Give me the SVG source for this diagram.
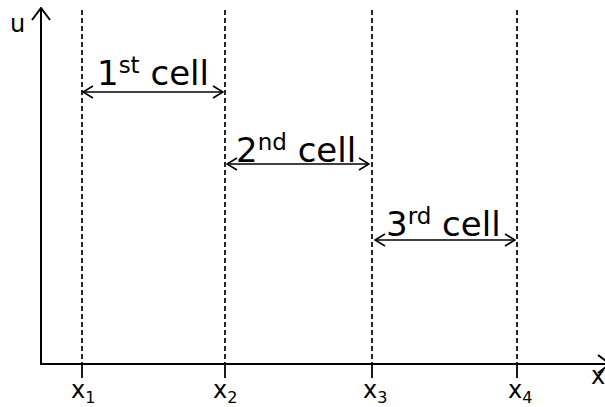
<svg xmlns="http://www.w3.org/2000/svg" width="605" height="407" viewBox="0 0 605 407">
  <defs>
    <marker id="open" viewBox="0 0 12 14" refX="11" refY="7" markerWidth="12" markerHeight="14" markerUnits="userSpaceOnUse" orient="auto-start-reverse">
      <path d="M1,1 L11,7 L1,13" fill="none" stroke="#000" stroke-width="1.6"/>
    </marker>
    <marker id="axisHead" viewBox="0 0 14 20" refX="13" refY="10" markerWidth="14" markerHeight="20" markerUnits="userSpaceOnUse" orient="auto">
      <path d="M1,1 L13,10 L1,19" fill="none" stroke="#000" stroke-width="2"/>
    </marker>
  </defs>
  <style>
    .axis { stroke: #000; stroke-width: 2; fill: none; }
    .grid { stroke: #000; stroke-width: 1.7; stroke-dasharray: 5 3; fill: none; }
    .tick { stroke: #000; stroke-width: 1.8; }
    .span { stroke: #000; stroke-width: 1.5; fill: none; }
    text { font-family: "DejaVu Sans", Verdana, sans-serif; fill: #000; }
    .big { font-size: 34px; }
    .sup { font-size: 23px; }
    .lab { font-size: 24px; }
    .sub { font-size: 16px; }
  </style>

  <!-- axes -->
  <g id="axes">
    <line class="axis" x1="41" y1="365" x2="41" y2="8" marker-end="url(#axisHead)"/>
    <line class="axis" x1="40" y1="364" x2="610" y2="364" marker-end="url(#axisHead)"/>
    <text class="lab" x="10" y="32">u</text>
    <text class="lab" x="591" y="384">x</text>
  </g>

  <!-- cell boundaries -->
  <g id="boundaries">
    <g id="x1">
      <line class="grid" x1="82" y1="10" x2="82" y2="364"/>
      <line class="tick" x1="82" y1="364" x2="82" y2="378"/>
      <text class="lab" x="71" y="398">x<tspan class="sub" dy="5">1</tspan></text>
    </g>
    <g id="x2">
      <line class="grid" x1="225" y1="10" x2="225" y2="364"/>
      <line class="tick" x1="225" y1="364" x2="225" y2="378"/>
      <text class="lab" x="213" y="398">x<tspan class="sub" dy="5">2</tspan></text>
    </g>
    <g id="x3">
      <line class="grid" x1="372" y1="10" x2="372" y2="364"/>
      <line class="tick" x1="372" y1="364" x2="372" y2="378"/>
      <text class="lab" x="363" y="398">x<tspan class="sub" dy="5">3</tspan></text>
    </g>
    <g id="x4">
      <line class="grid" x1="517" y1="10" x2="517" y2="364"/>
      <line class="tick" x1="517" y1="364" x2="517" y2="378"/>
      <text class="lab" x="508" y="398">x<tspan class="sub" dy="5">4</tspan></text>
    </g>
  </g>

  <!-- cell spans -->
  <g id="connectors">
    <line class="span" x1="83" y1="92" x2="223" y2="92" marker-start="url(#open)" marker-end="url(#open)"/>
    <line class="span" x1="227" y1="164" x2="369" y2="164" marker-start="url(#open)" marker-end="url(#open)"/>
    <line class="span" x1="375" y1="240" x2="515" y2="240" marker-start="url(#open)" marker-end="url(#open)"/>
  </g>

  <g id="cell1">
    <text class="big" x="97" y="85">1<tspan class="sup" dy="-12">st</tspan><tspan dy="12"> cell</tspan></text>
  </g>
  <g id="cell2">
    <text class="big" x="236" y="162">2<tspan class="sup" dy="-12">nd</tspan><tspan dy="12"> cell</tspan></text>
  </g>
  <g id="cell3">
    <text class="big" x="386" y="236">3<tspan class="sup" dy="-12">rd</tspan><tspan dy="12"> cell</tspan></text>
  </g>
</svg>
